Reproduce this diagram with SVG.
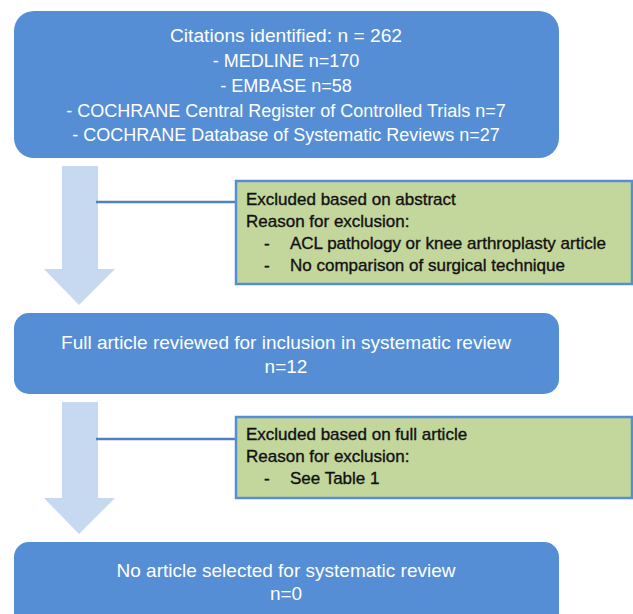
<svg xmlns="http://www.w3.org/2000/svg" width="633" height="614" viewBox="0 0 633 614">
  <style>
    .main { fill: #558ED5; }
    .excl { fill: #C3D69B; stroke: #558ED5; stroke-width: 2.5; }
    .arrow { fill: #C6D9F1; }
    .conn { stroke: #4F81BD; stroke-width: 2.5; fill: none; }
    .wt { font-family: "Liberation Sans", Arial, sans-serif; fill: #FFFFFF; text-anchor: middle; }
    .bt { font-family: "Liberation Sans", Arial, sans-serif; fill: #111111; stroke: #111111; stroke-width: 0.35; font-size: 17px; }
  </style>
  <rect width="633" height="614" fill="#FFFFFF"/>

  <g id="arrows">
    <polygon class="arrow" points="62,166 98,166 98,269 115,269 79,305 44,269 62,269"/>
    <polygon class="arrow" points="62,402 98,402 98,498 115,498 79,534 44,498 62,498"/>
  </g>

  <g id="connectors">
    <line class="conn" x1="96" y1="202" x2="236" y2="202"/>
    <line class="conn" x1="96" y1="439" x2="236" y2="439"/>
  </g>

  <g id="node-citations">
    <rect class="main" x="14" y="11" width="545" height="147" rx="20"/>
    <text class="wt" font-size="18" x="286" y="42" textLength="232" lengthAdjust="spacingAndGlyphs">Citations identified:  n = 262</text>
    <text class="wt" font-size="18" x="286" y="67">- MEDLINE n=170</text>
    <text class="wt" font-size="18" x="286" y="92">- EMBASE n=58</text>
    <text class="wt" font-size="18" x="286" y="117">- COCHRANE Central Register of Controlled Trials n=7</text>
    <text class="wt" font-size="18" x="286" y="141">- COCHRANE Database of Systematic Reviews n=27</text>
  </g>

  <g id="node-excluded-abstract">
    <rect class="excl" x="236" y="181" width="396" height="103"/>
    <text class="bt" x="246" y="205">Excluded based on abstract</text>
    <text class="bt" x="246" y="227">Reason for exclusion:</text>
    <text class="bt" x="264" y="249">-</text>
    <text class="bt" x="290" y="249">ACL pathology or knee arthroplasty article</text>
    <text class="bt" x="264" y="271">-</text>
    <text class="bt" x="290" y="271">No comparison of surgical technique</text>
  </g>

  <g id="node-full-article">
    <rect class="main" x="14" y="313" width="545" height="81" rx="15"/>
    <text class="wt" font-size="19" x="286" y="349">Full article reviewed for inclusion in systematic review</text>
    <text class="wt" font-size="19" x="286" y="373">n=12</text>
  </g>

  <g id="node-excluded-full">
    <rect class="excl" x="236" y="417" width="396" height="81"/>
    <text class="bt" x="246" y="440">Excluded based on full article</text>
    <text class="bt" x="246" y="462">Reason for exclusion:</text>
    <text class="bt" x="264" y="484">-</text>
    <text class="bt" x="290" y="484">See Table 1</text>
  </g>

  <g id="node-selected">
    <rect class="main" x="14" y="542" width="545" height="90" rx="15"/>
    <text class="wt" font-size="19" x="286" y="577">No article selected for systematic review</text>
    <text class="wt" font-size="19" x="286" y="600">n=0</text>
  </g>
</svg>
